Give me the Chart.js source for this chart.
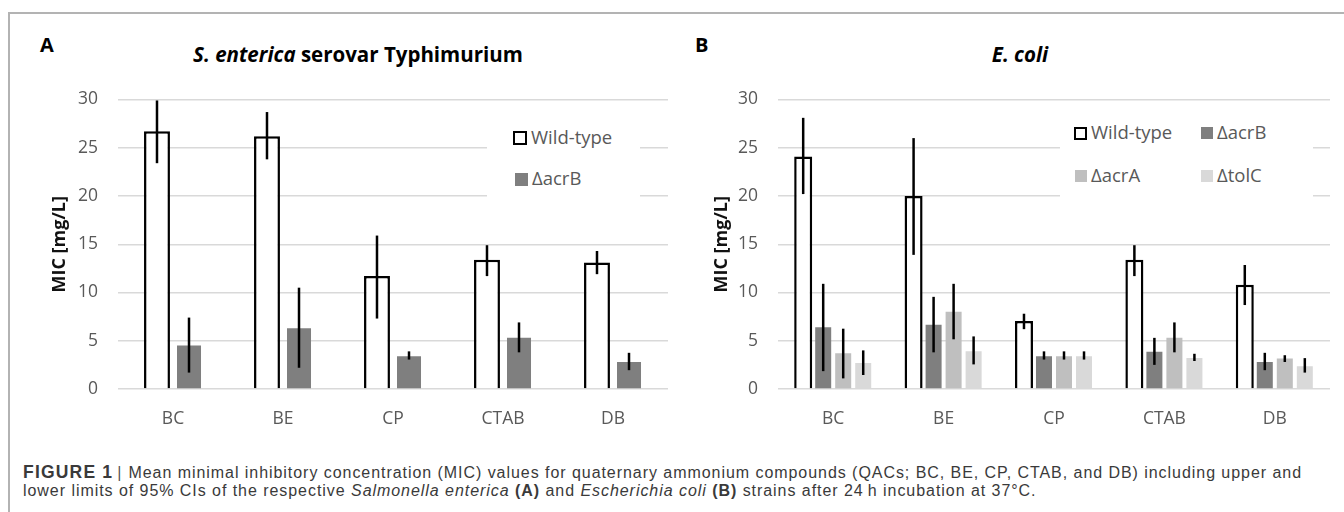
<!DOCTYPE html>
<html>
<head>
<meta charset="utf-8">
<script src="https://cdn.jsdelivr.net/npm/chart.js@4.4.1/dist/chart.umd.min.js"></script>
<style>
  body { margin: 0; background: #fff; width: 1344px; height: 512px; overflow: hidden; position: relative; font-family: "Open Sans", sans-serif; }
  .frame { position: absolute; left: 8px; top: 12px; width: 1350px; height: 520px; border-top: 2px solid #b3b3b3; border-left: 2px solid #b3b3b3; }
  .box { position: absolute; }
  .letter { position: absolute; font: bold 20px "Open Sans", sans-serif; color: #000; line-height: 24px; }
  .title { position: absolute; font: bold 20.5px "Open Sans", sans-serif; color: #000; white-space: nowrap; transform: translateX(-50%); line-height: 24px; }
  .legend { position: absolute; background: #fff; }
  .item { position: absolute; font: 18.5px "Open Sans", sans-serif; color: #595959; white-space: nowrap; line-height: 24px; }
  .swatch { position: absolute; box-sizing: border-box; }
  .caption { position: absolute; left: 23px; top: 463px; font: 16px "Liberation Sans", Arial, sans-serif; letter-spacing: 0.95px; color: #3a3a3a; line-height: 18px; white-space: nowrap; }
  .caption b.fig { font-size: 17.5px; letter-spacing: 1.2px; }
  .caption .sep { color: #555; margin: 0 6px 0 4px; }
</style>
</head>
<body>
<div class="frame"></div>

<div class="letter" style="left:40px; top:33px;">A</div>
<div class="title" style="left:358px; top:42px;"><i>S. enterica</i> serovar Typhimurium</div>
<div class="box" style="left:48px; top:69px; width:620px; height:371px;"><canvas id="chartA"></canvas></div>

<div class="letter" style="left:695px; top:33px;">B</div>
<div class="title" style="left:1020px; top:42px;"><i>E. coli</i></div>
<div class="box" style="left:710px; top:69px; width:620px; height:371px;"><canvas id="chartB"></canvas></div>

<div class="legend" id="legendA" style="left:487px; top:114px; width:153px; height:86px;"></div>
<div class="legend" id="legendB" style="left:1060px; top:108px; width:253px; height:92px;"></div>

<div class="caption">
  <b class="fig">FIGURE 1</b><span class="sep">|</span>Mean minimal inhibitory concentration (MIC) values for quaternary ammonium compounds (QACs; BC, BE, CP, CTAB, and DB) including upper and<br>
  lower limits of 95% CIs of the respective <i>Salmonella enterica</i> <b>(A)</b> and <i>Escherichia coli</i> <b>(B)</b> strains after 24&#8201;h incubation at 37°C.
</div>

<script>
// categorías y series
const categories = ['BC', 'BE', 'CP', 'CTAB', 'DB'];
const seriesNames = ['Wild-type', 'ΔacrB', 'ΔacrA', 'ΔtolC'];
const seriesColors = ['#ffffff', '#7f7f7f', '#bfbfbf', '#d9d9d9'];
const yMin = 0, yMax = 30, yStep = 5;

// A: S. enterica (media, límite inferior, límite superior)
const sWild   = [26.7, 26.2, 11.7, 13.4, 13.1];
const sWildLo = [23.4, 23.8, 7.3, 11.7, 11.9];
const sWildHi = [29.9, 28.7, 15.9, 14.9, 14.3];
const sAcrB   = [4.5, 6.3, 3.4, 5.3, 2.8];
const sAcrBLo = [1.7, 2.2, 3.05, 3.8, 1.95];
const sAcrBHi = [7.4, 10.5, 3.9, 6.9, 3.75];

// B: E. coli
const eWild   = [24.1, 20.0, 7.05, 13.4, 10.8];
const eWildLo = [20.2, 13.9, 6.2, 11.7, 8.7];
const eWildHi = [28.1, 26.0, 7.8, 14.9, 12.85];
const eAcrB   = [6.4, 6.65, 3.4, 3.85, 2.8];
const eAcrBLo = [1.85, 3.8, 3.05, 2.5, 1.95];
const eAcrBHi = [10.9, 9.55, 3.9, 5.3, 3.75];
const eAcrA   = [3.7, 8.0, 3.4, 5.3, 3.15];
const eAcrALo = [1.1, 5.15, 3.05, 3.8, 2.8];
const eAcrAHi = [6.25, 10.9, 3.9, 6.9, 3.5];
const eTolC   = [2.7, 3.9, 3.4, 3.2, 2.35];
const eTolCLo = [1.45, 2.55, 3.05, 2.9, 1.7];
const eTolCHi = [4.0, 5.45, 3.9, 3.65, 3.2];

// barras de error (IC 95%)
const errorBars = {
    id: 'errorBars',
    afterDatasetsDraw(chart) {
        const ctx = chart.ctx;
        const y = chart.scales.y;
        chart.data.datasets.forEach((ds, i) => {
            const meta = chart.getDatasetMeta(i);
            meta.data.forEach((bar, j) => {
                const top = y.getPixelForValue(ds.errHi[j]);
                const bot = y.getPixelForValue(ds.errLo[j]);
                ctx.save();
                ctx.strokeStyle = '#000';
                ctx.lineWidth = 2.5;
                ctx.beginPath();
                ctx.moveTo(bar.x, top);
                ctx.lineTo(bar.x, bot);
                ctx.stroke();
                ctx.restore();
            });
        });
    }
};

function serie(idx, data, lo, hi, barPct) {
    const wild = idx === 0;
    return {
        label: seriesNames[idx],
        data: data,
        errLo: lo,
        errHi: hi,
        backgroundColor: seriesColors[idx],
        borderColor: wild ? '#000' : seriesColors[idx],
        borderWidth: wild ? 2.5 : 0,
        barPercentage: wild ? barPct[0] : barPct[1]
    };
}

function makeChart(id, datasets, catPct, yWidth) {
    return new Chart(document.getElementById(id), {
        type: 'bar',
        data: { labels: categories, datasets: datasets },
        options: {
            responsive: true,
            maintainAspectRatio: false,
            animation: false,
            layout: { padding: { top: 6, right: 0, bottom: 0, left: 0 } },
            datasets: { bar: { categoryPercentage: catPct } },
            plugins: { legend: { display: false }, tooltip: { enabled: false } },
            scales: {
                x: {
                    grid: { display: false },
                    border: { display: false },
                    ticks: { color: '#595959', padding: 12, font: { family: 'Open Sans', size: 17.5 } },
                    afterFit: s => { s.height = 51; }
                },
                y: {
                    min: yMin, max: yMax,
                    grid: { color: '#d9d9d9', lineWidth: 1.5, drawTicks: false },
                    border: { display: false },
                    ticks: { stepSize: yStep, color: '#595959', padding: 20, font: { family: 'Open Sans', size: 17.5 } },
                    title: {
                        display: true,
                        text: 'MIC [mg/L]',
                        color: '#111',
                        padding: { top: 1, bottom: 0 },
                        font: { family: 'Open Sans', size: 18, weight: 'bold' }
                    },
                    afterFit: s => { s.width = yWidth; }
                }
            }
        },
        plugins: [errorBars]
    });
}

makeChart('chartA', [
    serie(0, sWild, sWildLo, sWildHi, [0.81, 0.75]),
    serie(1, sAcrB, sAcrBLo, sAcrBHi, [0.81, 0.75])
], 0.582, 70);

makeChart('chartB', [
    serie(0, eWild, eWildLo, eWildHi, [0.9, 0.8]),
    serie(1, eAcrB, eAcrBLo, eAcrBHi, [0.9, 0.8]),
    serie(2, eAcrA, eAcrALo, eAcrAHi, [0.9, 0.8]),
    serie(3, eTolC, eTolCLo, eTolCHi, [0.9, 0.8])
], 0.725, 68);

// leyendas dentro del área del gráfico
function addItem(legendId, idx, left, top, size) {
    const box = document.getElementById(legendId);
    const sw = document.createElement('div');
    sw.className = 'swatch';
    sw.style.left = left + 'px';
    sw.style.top = (top - size / 2) + 'px';
    sw.style.width = size + 'px';
    sw.style.height = size + 'px';
    sw.style.background = seriesColors[idx];
    if (idx === 0) sw.style.border = '2.5px solid #000';
    box.appendChild(sw);
    const tx = document.createElement('div');
    tx.className = 'item';
    tx.textContent = seriesNames[idx];
    tx.style.left = (left + size + 4) + 'px';
    tx.style.top = (top - 13) + 'px';
    box.appendChild(tx);
}
addItem('legendA', 0, 26, 24, 14);
addItem('legendA', 1, 28, 65, 13);

addItem('legendB', 0, 14, 25, 13);
addItem('legendB', 1, 141, 25, 12);
addItem('legendB', 2, 15, 68, 12);
addItem('legendB', 3, 141, 68, 12);
</script>
</body>
</html>
